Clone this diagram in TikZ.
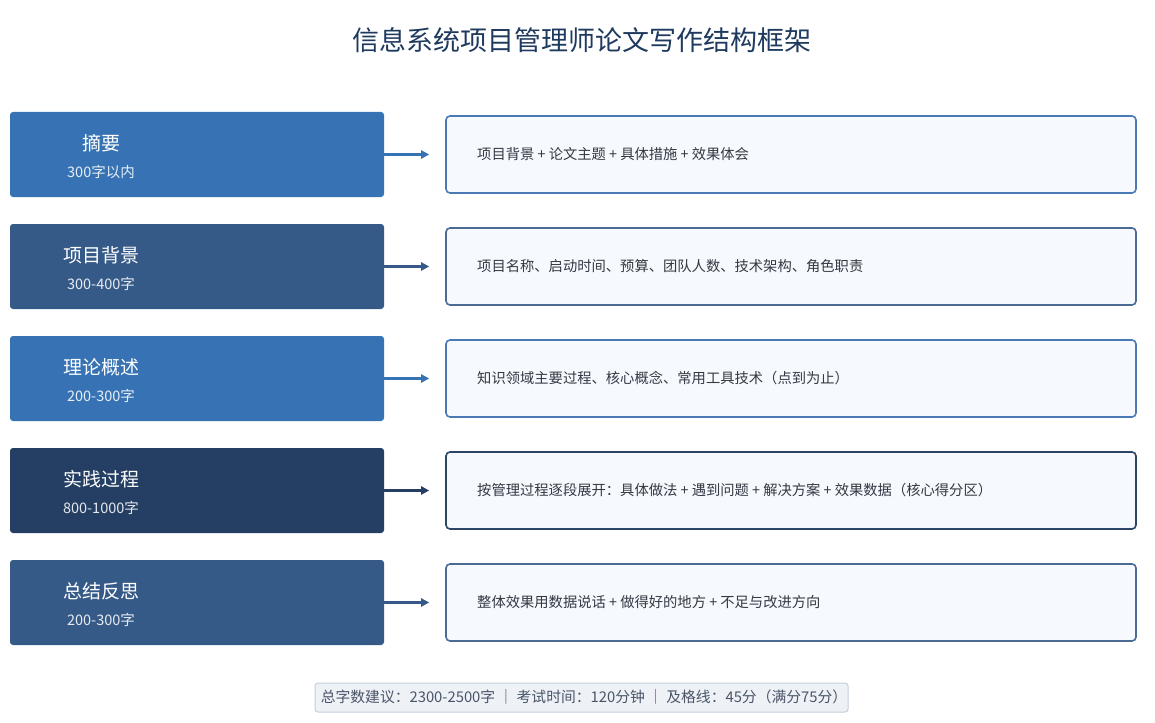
\documentclass[tikz,border=0pt]{standalone}
\usepackage{fontspec}
\setmainfont{Noto Sans CJK SC}
\usetikzlibrary{arrows.meta}
\definecolor{cA}{HTML}{3773B4}
\definecolor{cB}{HTML}{365A88}
\definecolor{cC}{HTML}{243F63}
\definecolor{bA}{HTML}{4A7AB5}
\definecolor{bB}{HTML}{4B6A94}
\definecolor{bC}{HTML}{2A4565}
\definecolor{rfill}{HTML}{F6F9FD}
\definecolor{titlec}{HTML}{1F3A5F}
\definecolor{bodyc}{HTML}{333A44}
\definecolor{footfill}{HTML}{EEF2F7}
\definecolor{footdraw}{HTML}{C5CEDA}
\definecolor{footc}{HTML}{4A5568}
\tikzset{
  leftbox/.style={rectangle, rounded corners=3pt, minimum width=374pt, minimum height=85pt, inner sep=0pt},
  rightbox/.style={rectangle, rounded corners=4pt, fill=rfill, line width=1.6pt, minimum width=690pt, minimum height=77pt, inner sep=0pt},
  lhead/.style={text=white, font=\fontsize{19}{22}\selectfont, inner sep=0pt},
  lsub/.style={text=white!88!cA, font=\fontsize{14.5}{16}\selectfont, inner sep=0pt},
  rtext/.style={anchor=west, text=bodyc, font=\fontsize{14.3}{16}\selectfont, inner sep=0pt},
  arr/.style={line width=3.2pt, -{Triangle[length=8pt,width=8pt]}, shorten >=16pt},
}
\begin{document}
\begin{tikzpicture}[x=1pt,y=-1pt]
\useasboundingbox (0,0) rectangle (1155,722);
\fill[white] (0,0) rectangle (1155,722);
\node[text=titlec, font=\fontsize{27}{32}\selectfont] (title) at (582,40) {信息系统项目管理师论文写作结构框架};

% row 1
\node[leftbox, fill=cA] (L1) at (197,154.5) {};
\node[lhead] (h1) at (101,143) {摘要};
\node[lsub] (s1) at (101,172) {300字以内};
\node[rightbox, draw=bA] (R1) at (791,154.5) {};
\node[rtext] (t1) at (477,154) {项目背景 + 论文主题 + 具体措施 + 效果体会};
\draw[arr, cA] (L1.east) -- (R1.west);

% row 2
\node[leftbox, fill=cB] (L2) at (197,266.5) {};
\node[lhead] (h2) at (101,255) {项目背景};
\node[lsub, text=white!88!cB] (s2) at (101,284) {300-400字};
\node[rightbox, draw=bB] (R2) at (791,266.5) {};
\node[rtext] (t2) at (477,266) {项目名称、启动时间、预算、团队人数、技术架构、角色职责};
\draw[arr, cB] (L2.east) -- (R2.west);

% row 3
\node[leftbox, fill=cA] (L3) at (197,378.5) {};
\node[lhead] (h3) at (101,367) {理论概述};
\node[lsub] (s3) at (101,396) {200-300字};
\node[rightbox, draw=bA] (R3) at (791,378.5) {};
\node[rtext] (t3) at (477,378) {知识领域主要过程、核心概念、常用工具技术（点到为止）};
\draw[arr, cA] (L3.east) -- (R3.west);

% row 4
\node[leftbox, fill=cC] (L4) at (197,490.5) {};
\node[lhead] (h4) at (101,479) {实践过程};
\node[lsub, text=white!88!cC] (s4) at (101,508) {800-1000字};
\node[rightbox, draw=bC] (R4) at (791,490.5) {};
\node[rtext] (t4) at (477,490) {按管理过程逐段展开：具体做法 + 遇到问题 + 解决方案 + 效果数据（核心得分区）};
\draw[arr, cC] (L4.east) -- (R4.west);

% row 5
\node[leftbox, fill=cB] (L5) at (197,602.5) {};
\node[lhead] (h5) at (101,591) {总结反思};
\node[lsub, text=white!88!cB] (s5) at (101,620) {200-300字};
\node[rightbox, draw=bB] (R5) at (791,602.5) {};
\node[rtext] (t5) at (477,602) {整体效果用数据说话 + 做得好的地方 + 不足与改进方向};
\draw[arr, cB] (L5.east) -- (R5.west);

% footer
\node[rectangle, rounded corners=3pt, fill=footfill, draw=footdraw, line width=1pt, minimum width=533pt, minimum height=29pt, inner sep=0pt] (F) at (581.5,697.5) {};
\node[text=footc, font=\fontsize{14.8}{16}\selectfont, inner sep=0pt] (ft) at (584,697) {总字数建议：2300-2500字 ｜ 考试时间：120分钟 ｜ 及格线：45分（满分75分）};
\end{tikzpicture}
\end{document}
